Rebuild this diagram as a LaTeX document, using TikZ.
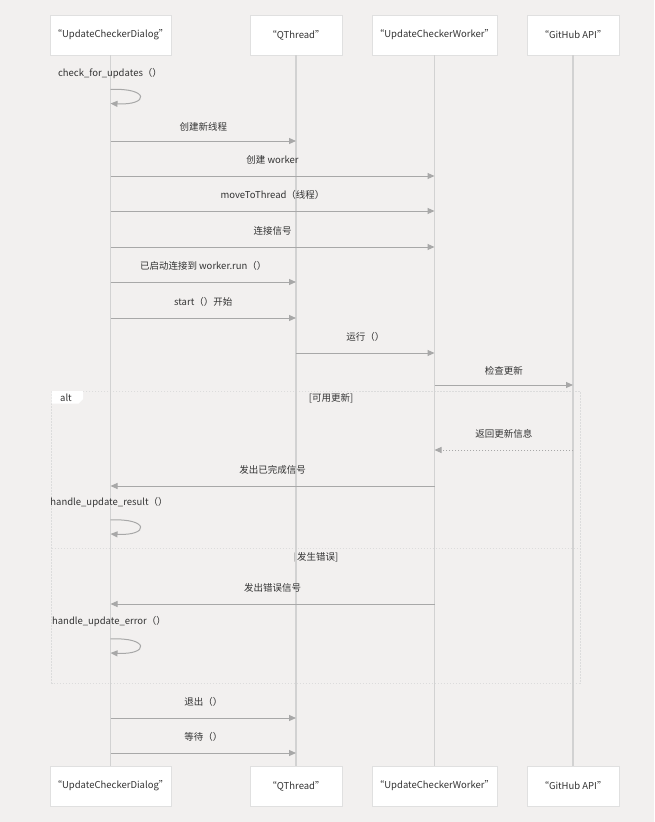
\documentclass[tikz,border=0pt]{standalone}
\usepackage{fontspec}
\setmainfont{Noto Sans CJK SC}
\usetikzlibrary{arrows.meta}

\definecolor{bg}{HTML}{F2F0EF}
\definecolor{boxline}{HTML}{E0E0E0}
\definecolor{lifeline}{HTML}{D2D2D2}
\definecolor{arrowc}{HTML}{A8A8A8}
\definecolor{txt}{HTML}{333333}
\definecolor{framec}{HTML}{DCDCDC}

\tikzset{
  actor/.style={draw=boxline, fill=white, minimum height=40pt, inner sep=2pt,
    text=txt, font=\fontsize{9.5}{11}\selectfont},
  life/.style={draw=lifeline, line width=1.3pt},
  msg/.style={draw=arrowc, line width=1pt, -{Triangle[length=7pt,width=6pt]}},
  reply/.style={msg, dash pattern=on 1.5pt off 1.5pt},
  lbl/.style={text=txt, inner sep=0pt, font=\fontsize{9.5}{11}\selectfont},
  frame/.style={draw=framec, line width=0.8pt, dash pattern=on 1.5pt off 1.5pt},
}

\begin{document}
\begin{tikzpicture}[x=1pt,y=-1pt]
\fill[bg] (0,0) rectangle (654,822);
\useasboundingbox (0,0) rectangle (654,822);

% alt frame
\draw[frame] (51.5,391) rectangle (580,683);
\draw[frame] (51.5,548) -- (580,548);
\fill[white] (51.5,391) -- (83,391) -- (83,399) -- (78.5,403.5) -- (51.5,403.5) -- cycle;
\node[lbl] (alt) at (66,397.5) {alt};
\node[lbl] (cond1) at (331,398.5) {[可用更新]};
\node[lbl] (cond2) at (316,557) {[发生错误]};

% participants
\node[actor, minimum width=121pt] (dlgT) at (110.5,35) {“UpdateCheckerDialog"};
\node[actor, minimum width=92pt] (thrT) at (296,35) {“QThread"};
\node[actor, minimum width=125pt] (wrkT) at (434.5,35) {“UpdateCheckerWorker"};
\node[actor, minimum width=92pt] (ghT) at (573,35) {“GitHub API"};

\node[actor, minimum width=121pt] (dlgB) at (110.5,786) {“UpdateCheckerDialog"};
\node[actor, minimum width=92pt] (thrB) at (296,786) {“QThread"};
\node[actor, minimum width=125pt] (wrkB) at (434.5,786) {“UpdateCheckerWorker"};
\node[actor, minimum width=92pt] (ghB) at (573,786) {“GitHub API"};

\path[life] (dlgT) -- (dlgB);
\path[life] (thrT) -- (thrB);
\path[life] (wrkT) -- (wrkB);
\path[life] (ghT) -- (ghB);

% check_for_updates
\node[lbl] (callA) at (110,74) {check\_for\_updates（）};
\coordinate (la1) at (110.5,89.5);
\coordinate (la2) at (110.5,103.5);
\path[msg] (la1) .. controls +(39,-2) and +(39,2) .. (la2);

% set up
\coordinate (d1) at (110.5,141); \coordinate (q1) at (296,141);
\path[msg] (d1) -- (q1) node[lbl,midway,yshift=14pt] {创建新线程};
\coordinate (d2) at (110.5,176); \coordinate (w2) at (434.5,176);
\path[msg] (d2) -- (w2) node[lbl,midway,yshift=16pt] {创建 worker};
\coordinate (d3) at (110.5,211); \coordinate (w3) at (434.5,211);
\path[msg] (d3) -- (w3) node[lbl,midway,yshift=16pt] {moveToThread（线程）};
\coordinate (d4) at (110.5,247); \coordinate (w4) at (434.5,247);
\path[msg] (d4) -- (w4) node[lbl,midway,yshift=16pt] {连接信号};
\coordinate (d5) at (110.5,282); \coordinate (q5) at (296,282);
\path[msg] (d5) -- (q5) node[lbl,midway,yshift=16pt] {已启动连接到 worker.run（）};
\coordinate (d6) at (110.5,318); \coordinate (q6) at (296,318);
\path[msg] (d6) -- (q6) node[lbl,midway,yshift=16pt] {start（）开始};
\coordinate (q7) at (296,353); \coordinate (w7) at (434.5,353);
\path[msg] (q7) -- (w7) node[lbl,midway,yshift=16pt] {运行（）};
\coordinate (w8) at (434.5,385); \coordinate (g8) at (573,385);
\path[msg] (w8) -- (g8) node[lbl,midway,yshift=14pt] {检查更新};

% update available
\coordinate (g9) at (573,450); \coordinate (w9) at (434.5,450);
\path[reply] (g9) -- (w9) node[lbl,midway,yshift=16pt] {返回更新信息};
\coordinate (w10) at (434.5,486); \coordinate (d10) at (110.5,486);
\path[msg] (w10) -- (d10) node[lbl,midway,yshift=16pt] {发出已完成信号};
\node[lbl] (callB) at (109,503) {handle\_update\_result（）};
\coordinate (lb1) at (110.5,520);
\coordinate (lb2) at (110.5,534);
\path[msg] (lb1) .. controls +(39,-2) and +(39,2) .. (lb2);

% error
\coordinate (w11) at (434.5,604); \coordinate (d11) at (110.5,604);
\path[msg] (w11) -- (d11) node[lbl,midway,yshift=16pt] {发出错误信号};
\node[lbl] (callC) at (109,622) {handle\_update\_error（）};
\coordinate (lc1) at (110.5,639);
\coordinate (lc2) at (110.5,653);
\path[msg] (lc1) .. controls +(39,-2) and +(39,2) .. (lc2);

% shut down
\coordinate (d12) at (110.5,718); \coordinate (q12) at (296,718);
\path[msg] (d12) -- (q12) node[lbl,midway,yshift=16pt] {退出（）};
\coordinate (d13) at (110.5,753); \coordinate (q13) at (296,753);
\path[msg] (d13) -- (q13) node[lbl,midway,yshift=16pt] {等待（）};
\end{tikzpicture}
\end{document}
